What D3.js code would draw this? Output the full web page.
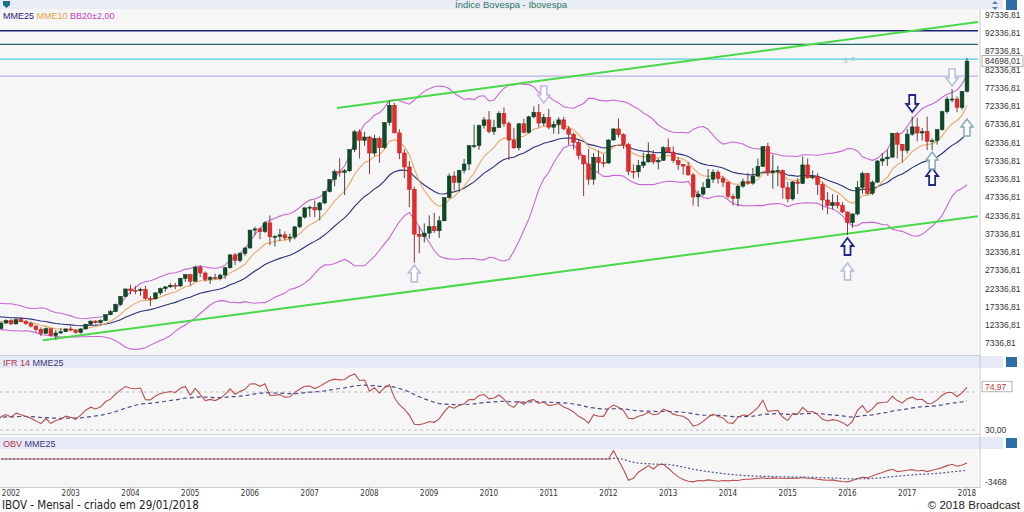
<!DOCTYPE html>
<html><head><meta charset="utf-8">
<script src="https://cdn.jsdelivr.net/npm/d3@7"></script>
<style>body{margin:0;background:#fff;} svg{display:block;font-family:"Liberation Sans",Arial,sans-serif;}</style>
</head><body><svg id="c" width="1024" height="512"></svg>
<script>
// ---- DATA (monthly, Ibovespa) ----
// closes before the first drawn candle (Jan 2000 - Oct 2001), used only to warm up indicators
const warmupCloses = [16388,17660,17820,15538,14957,16727,16348,17349,15902,14734,13290,15259,
  17672,15891,14438,14828,14649,14970,13500,12841,10633,11371];
const firstMonth = -2; // first drawn candle: Nov 2001 (month 0 = Jan 2002)
const opens = [11371,12890,
 13577,12660,13828,13268,12736,12050,11139,10079,11330,9471,10167,10507,
 11268,10941,10280,11273,12556,13421,12973,13575,15175,16010,17982,20183,
 22236,21851,21755,22142,19607,19545,21149,22337,22803,23245,23052,25128,
 26196,24351,28139,26610,24843,25387,25051,26042,28043,31583,30038,31916,
 33455,38382,38697,37951,40365,36530,36631,37077,36232,36449,39262,41931,
 44473,44641,43892,45804,48956,52268,54392,54182,54637,60465,65317,63006,
 63886,59490,63489,60968,67868,72593,65017,59505,55680,49541,37256,36596,
 37550,39301,38183,40926,47289,53198,51465,54766,56489,61518,61546,67044,
 68588,65402,66503,70372,67530,63046,60936,67515,65145,69430,70673,67705,
 69305,66575,67383,68587,66133,64620,62404,58823,56495,52324,58338,56875,
 56754,63072,66098,64511,61820,54490,54355,56097,57061,59176,57068,57475,
 60952,59761,57424,56352,55910,53506,47457,48234,50008,52338,54256,52482,
 51507,47638,47094,50415,51626,51239,53168,55829,61288,54116,54629,54724,
 50007,46908,51583,51150,56229,52760,53081,50865,46626,45059,45868,45120,
 43350,40406,42793,50055,53910,48471,51527,57308,57901,58367,64924,61906,
 60227,64670,66662,64984,65403,62711,62899,65920,70835,74294,74308,71971,
 76402];
const highs = [13120,13900,
 13950,13900,14500,13700,13300,12300,11700,11700,11400,10950,11500,11500,
 12000,11200,11500,12700,13600,13700,13900,15300,16500,18200,20300,22300,
 23400,23000,22600,23100,20300,21400,22600,23000,23800,23900,25300,26300,
 26400,28600,28800,27000,25800,26400,26400,28300,31700,32100,32300,33800,
 38400,39300,39100,40800,42400,37000,38700,38000,37400,39500,42200,44500,
 45100,46500,46100,49100,52300,55000,58100,55100,60500,65800,66000,65300,
 64200,64500,64000,68000,73920,73200,66000,60500,57300,50300,39500,40200,
 42400,43100,42200,47300,53900,54500,54800,57900,61700,67300,67300,69400,
 71000,68600,71000,72000,68100,66400,67700,68900,69700,72300,72900,70200,
 71600,68300,69300,69400,66900,65100,63400,58900,60600,59500,60200,59300,
 63200,66300,68970,64900,62300,56400,57600,59600,62400,60300,58000,61400,
 63500,61300,58400,56500,57000,54000,49200,51500,55100,55000,54800,53300,
 51700,48300,50700,52500,54100,55400,58000,61300,62300,59000,56000,55000,
 51600,51800,52600,58600,58000,54700,54000,51600,48800,48200,48000,46000,
 43400,42900,51800,54400,54100,52000,57600,59500,60300,64900,65300,62000,
 66100,69500,69100,66300,69500,63500,66000,71100,75000,77000,75000,76500,
 85500];
const lows = [11250,12600,
 12300,12450,13100,12400,11700,10500,9300,9800,9100,8371,9900,10400,
 10600,9950,9995,11100,12400,12700,12700,13400,15000,15900,17600,20000,
 20800,20800,20400,19300,17600,19300,20600,21500,22500,22200,22800,24200,
 23100,24300,25500,24300,23600,24800,24600,25000,27800,28800,29500,31300,
 33300,37000,35900,37600,34200,33900,35400,35600,35100,35800,38800,41500,
 42000,41900,41000,45500,48700,50400,53000,48000,54300,59800,58000,61500,
 53700,58600,56800,60600,67000,64900,57800,52600,44700,29435,32000,35000,
 36000,37600,36200,40800,47000,49200,48900,53900,54800,60800,60400,66200,
 64900,64400,66300,66700,57600,60600,60200,64900,64800,69000,66500,66900,
 66000,64800,64700,65700,61700,60400,57700,47700,50800,50800,54100,55600,
 56600,62900,63800,60700,53400,52500,52800,55400,56900,56400,55000,57300,
 59700,56800,54900,53600,53300,45100,44800,47800,49900,51300,51100,50200,
 47000,45100,44900,50000,50800,50800,53000,55700,53200,49700,50400,47000,
 46000,46500,48300,51000,52500,52300,48000,43800,42700,44000,44300,43000,
 37046,39000,42400,48300,48100,48000,51300,56000,56000,58300,58000,56900,
 59400,64200,62700,62900,60300,60300,61800,65600,70300,73400,70700,71400,
 76100];
const closes = [12890,13577,
 12660,13828,13268,12736,12050,11139,10079,11330,9471,10167,10507,11268,
 10941,10280,11273,12556,13421,12973,13575,15175,16010,17982,20183,22236,
 21851,21755,22142,19607,19545,21149,22337,22803,23245,23052,25128,26196,
 24351,28139,26610,24843,25387,25051,26042,28043,31583,30038,31916,33455,
 38382,38697,37951,40365,36530,36631,37077,36232,36449,39262,41931,44473,
 44641,43892,45804,48956,52268,54392,54182,54637,60465,65317,63006,63886,
 59490,63489,60968,67868,72593,65017,59505,55680,49541,37256,36596,37550,
 39301,38183,40926,47289,53198,51465,54766,56489,61518,61546,67044,68588,
 65402,66503,70372,67530,63046,60936,67515,65145,69430,70673,67705,69305,
 66575,67383,68587,66133,64620,62404,58823,56495,52324,58338,56875,56754,
 63072,66098,64511,61820,54490,54355,56097,57061,59176,57068,57475,60952,
 59761,57424,56352,55910,53506,47457,48234,50008,52338,54256,52482,51507,
 47638,47094,50415,51626,51239,53168,55829,61288,54116,54629,54724,50007,
 46908,51583,51150,56229,52760,53081,50865,46626,45059,45868,45120,43350,
 40406,42793,50055,53910,48471,51527,57308,57901,58367,64924,61906,60227,
 64670,66662,64984,65403,62711,62899,65920,70835,74294,74308,71971,76402,
 84698.01];
// OBV readings from Jan 2012 on (flat at 0 before: no volume history)
const obvStartMonth = 120;
const obvValues = [0,1250,-200,-1600,-3200,-2900,-2000,-1500,-1000,-1500,-900,-800,
 -1400,-2100,-2700,-3100,-3350,-3450,-3250,-3300,-3150,-3250,-3350,-3250,
 -3300,-3200,-3250,-3100,-3050,-3000,-2900,-2850,-2950,-2850,-2900,-2900,
 -2950,-2850,-2950,-2800,-2900,-2950,-3050,-3150,-3200,-3150,-3300,-3400,
 -3450,-3250,-2950,-2750,-2850,-2550,-2250,-2050,-1750,-1550,-1900,-1800,
 -1700,-1600,-1800,-1700,-1900,-1700,-1500,-1300,-1000,-800,-1100,-900,
 -600];
const yearLabels = ["2002","2003","2004","2005","2006","2007","2008","2009","2010","2011","2012","2013","2014","2015","2016","2017","2018"];
const priceTicks = [97336.81,92336.81,87336.81,82336.81,77336.81,72336.81,67336.81,62336.81,57336.81,52336.81,47336.81,42336.81,37336.81,32336.81,27336.81,22336.81,17336.81,12336.81,7336.81];
const levelPrices = [93029, 89297, 85262, 80600];
const trendUpper = [[65.5, 71842],[194.2, 95418]];
const trendLower = [[6.4, 8150],[194.2, 42150]];
const arrowMonths = [81, 107, 181, 189, 168, 168, 185, 185, 192];
const arrowTips  = [28800, 73200, 70750, 77870, 36200, 29350, 55400, 59780, 68830];
const arrowDirs  = ["up","down","down","down","up","up","up","up","up"];
const arrowKinds = ["light","lav","navy","light","navy","light","navy","teal","teal"];
const lastClose = 84698.01, lastRsi = 74.97, rsiTicks = [70,30], obvTick = -3468;
const title = "Índice Bovespa - Ibovespa";
const footerLeft = "IBOV - Mensal - criado em 29/01/2018", footerRight = "© 2018 Broadcast";

// ---- INDICATORS ----
const allCloses = warmupCloses.concat(closes);
const mOf = j => j - warmupCloses.length + firstMonth;
function ema(arr, n){ const a=2/(n+1); let p=null; return arr.map(v=>{ if(v==null) return null; p = p==null? v : a*v+(1-a)*p; return p; }); }
function bands(arr,n,k){ return arr.map((v,i)=>{ if(i<n-1) return null; const s=arr.slice(i-n+1,i+1); const m=d3.mean(s); const sd=Math.sqrt(d3.mean(s,q=>(q-m)*(q-m))); return [m+k*sd,m-k*sd]; }); }
function rsi(arr,n){ const out=arr.map(()=>null); let ag=0, al=0;
  for(let i=1;i<arr.length;i++){ const d=arr[i]-arr[i-1], g=Math.max(d,0), l=Math.max(-d,0);
    if(i<=n){ ag+=g/n; al+=l/n; if(i===n) out[i]=100-100/(1+ag/al); }
    else { ag=(ag*(n-1)+g)/n; al=(al*(n-1)+l)/n; out[i]=100-100/(1+ag/al); } }
  return out; }
const e25 = ema(allCloses,25), e10 = ema(allCloses,10), bb = bands(allCloses,20,2);
const r = rsi(allCloses,14), r25 = ema(r,25);
const obvAll = closes.map((c,i)=>{ const m=i+firstMonth; return m<obvStartMonth?0:obvValues[m-obvStartMonth]; });
const obv25 = ema(obvAll,25);

// ---- SCALES ----
const svg = d3.select("#c");
const R = 978;
const x = d3.scaleLinear().domain([0,192]).range([11,967]);
const y = d3.scaleLinear().domain([7336.81,97336.81]).range([343.3,15]);
const yR = d3.scaleLinear().domain([30,70]).range([430,392]);
const yO = d3.scaleLinear().domain([obvTick,0]).range([482,459]);
const fmt = v => d3.format(".2f")(v).replace(".",",");

// backgrounds
svg.append("rect").attr("width",1024).attr("height",512).attr("fill","#fff");
svg.append("rect").attr("x",0).attr("y",0).attr("width",1003).attr("height",9).attr("fill","#e9ebf6");
svg.append("rect").attr("x",0).attr("y",9).attr("width",R).attr("height",346).attr("fill","#f6f6f7");
svg.append("rect").attr("x",0).attr("y",356).attr("width",1003).attr("height",12).attr("fill","#e6e9f7");
svg.append("rect").attr("x",0).attr("y",368).attr("width",R).attr("height",66).attr("fill","#f6f6f7");
svg.append("rect").attr("x",0).attr("y",437).attr("width",1003).attr("height",12).attr("fill","#e6e9f7");
svg.append("rect").attr("x",0).attr("y",449).attr("width",R).attr("height",38).attr("fill","#f6f6f7");
svg.append("line").attr("x1",980).attr("x2",980).attr("y1",9).attr("y2",488).attr("stroke","#c8c8c8");
[355,434,487].forEach(v=>svg.append("line").attr("x1",0).attr("x2",980).attr("y1",v+0.5).attr("y2",v+0.5).attr("stroke","#d0d0d0"));

const defs = svg.append("defs");
[["cm",0,9,R,346],["cr",0,368,R,66],["co",0,449,R,38],["cl",980,386,44,5]].forEach(c=>defs.append("clipPath").attr("id",c[0]).append("rect").attr("x",c[1]).attr("y",c[2]).attr("width",c[3]).attr("height",c[4]));
const gM = svg.append("g").attr("clip-path","url(#cm)");
const gR = svg.append("g").attr("clip-path","url(#cr)");
const gO = svg.append("g").attr("clip-path","url(#co)");

// level lines
const levelColors = ["#1b1f78","#1f6b66","#4fd0dc","#b9b1e6"];
levelPrices.forEach((p,i)=>gM.append("line").attr("x1",0).attr("x2",R).attr("y1",y(p)).attr("y2",y(p)).attr("stroke",levelColors[i]).attr("stroke-width",i<2?1.4:1.2));
gM.append("text").attr("x",843).attr("y",63).attr("font-size",8).attr("fill","#9bb8c8").text("3");
gM.append("circle").attr("cx",853).attr("cy",y(levelPrices[2])).attr("r",2).attr("fill","#a8d0dc");

// lines helper
const firstJ = warmupCloses.length;
function series(arr, f){ const pts=[]; for(let j=firstJ-1;j<arr.length;j++){ const v=f?f(arr[j]):arr[j]; if(v!=null) pts.push([mOf(j),v]); } return pts; }
const line = (ys) => d3.line().x(d=>x(d[0])).y(d=>ys(d[1]));
gM.append("path").attr("d",line(y)(series(bb,d=>d&&d[0]))).attr("fill","none").attr("stroke","#c867d3").attr("stroke-width",1.1);
gM.append("path").attr("d",line(y)(series(bb,d=>d&&d[1]))).attr("fill","none").attr("stroke","#c867d3").attr("stroke-width",1.1);
gM.append("path").attr("d",line(y)(series(e25))).attr("fill","none").attr("stroke","#2c3079").attr("stroke-width",1.1);
gM.append("path").attr("d",line(y)(series(e10))).attr("fill","none").attr("stroke","#e9a868").attr("stroke-width",1.1);

// trend lines
[trendUpper,trendLower].forEach(t=>gM.append("line").attr("x1",x(t[0][0])).attr("y1",y(t[0][1])).attr("x2",x(t[1][0])).attr("y2",y(t[1][1])).attr("stroke","#4ad94a").attr("stroke-width",2));

// candles
const cg = gM.selectAll("g.c").data(closes.map((c,i)=>({m:i+firstMonth,o:opens[i],h:highs[i],l:lows[i],c}))).join("g");
cg.append("line").attr("x1",d=>x(d.m)).attr("x2",d=>x(d.m)).attr("y1",d=>y(d.h)).attr("y2",d=>y(d.l))
  .attr("stroke",d=>d.c>=d.o?"#3b4a40":"#8a3a3a").attr("stroke-width",1);
cg.append("rect").attr("x",d=>x(d.m)-1.9).attr("width",3.8)
  .attr("y",d=>y(Math.max(d.o,d.c))).attr("height",d=>Math.max(1,Math.abs(y(d.o)-y(d.c))))
  .attr("fill",d=>d.c>=d.o?"#0e4a27":"#e62a2a").attr("stroke",d=>d.c>=d.o?"#0a3a1e":"#c41e1e").attr("stroke-width",0.5);

// arrows
const arrowStyle = {navy:["#20268a",1.8],light:["#b3bdd6",1.5],lav:["#c4b4e4",1.5],teal:["#86aab6",1.5]};
arrowMonths.forEach((m,i)=>{
  const cx=x(m), ty=y(arrowTips[i]), s=arrowDirs[i]==="up"?1:-1, st=arrowStyle[arrowKinds[i]];
  const pts=[[0,0],[6,8],[3,8],[3,17],[-3,17],[-3,8],[-6,8]].map(p=>[cx+p[0],ty+s*p[1]]);
  gM.append("path").attr("d","M"+pts.join("L")+"Z").attr("fill","#fff").attr("stroke",st[0]).attr("stroke-width",st[1]).attr("stroke-linejoin","miter");
});

// RSI panel
[70,30].forEach(v=>gR.append("line").attr("x1",0).attr("x2",R).attr("y1",yR(v)).attr("y2",yR(v)).attr("stroke","#bdbdbd").attr("stroke-dasharray","3,3"));
gR.append("path").attr("d",line(yR)(series(r25))).attr("fill","none").attr("stroke","#4b4b86").attr("stroke-width",1.2).attr("stroke-dasharray","4,3");
gR.append("path").attr("d",line(yR)(series(r))).attr("fill","none").attr("stroke","#b8504f").attr("stroke-width",1.1);

// OBV panel
const obvPts = obvAll.map((v,i)=>[i+firstMonth,v]), obvEPts = obv25.map((v,i)=>[i+firstMonth,v]);
gO.append("path").attr("d",line(yO)(obvPts)).attr("fill","none").attr("stroke","#b8504f").attr("stroke-width",1.1);
gO.append("path").attr("d",line(yO)(obvEPts)).attr("fill","none").attr("stroke","#55598c").attr("stroke-width",1.2).attr("stroke-dasharray","2,2");

// right axis labels
const ax = svg.append("g").attr("font-size",8.5).attr("fill","#333");
priceTicks.forEach(v=>ax.append("text").attr("x",985).attr("y",y(v)+3).text(fmt(v)));
ax.append("rect").attr("x",982).attr("y",y(lastClose)-5.5).attr("width",41).attr("height",11).attr("fill","#fff").attr("stroke","#a0a0a0").attr("stroke-width",0.8);
ax.append("text").attr("x",985).attr("y",y(lastClose)+3).text(fmt(lastClose));
// 70,00 label sits partly under the 74,97 marker: only its lower strip shows
ax.append("text").attr("x",985).attr("y",yR(rsiTicks[0])+3).attr("clip-path","url(#cl)").text(fmt(rsiTicks[0]));
ax.append("text").attr("x",985).attr("y",yR(rsiTicks[1])+3).text(fmt(rsiTicks[1]));
ax.append("rect").attr("x",982).attr("y",yR(lastRsi)-6).attr("width",30).attr("height",10.5).attr("fill","#fff").attr("stroke","#a0a0a0").attr("stroke-width",0.8);
ax.append("text").attr("x",985).attr("y",yR(lastRsi)+2.5).attr("fill","#c03434").text(fmt(lastRsi));
ax.append("text").attr("x",985).attr("y",yO(obvTick)+3).text(String(obvTick));

// x axis
const xa = svg.append("g").attr("font-size",8).attr("fill","#333").attr("font-family","'Liberation Sans Narrow','DejaVu Sans Condensed',sans-serif");
yearLabels.forEach((t,i)=>{ xa.append("line").attr("x1",x(i*12)).attr("x2",x(i*12)).attr("y1",487).attr("y2",490).attr("stroke","#aaa");
  xa.append("text").attr("x",x(i*12)).attr("y",496).attr("text-anchor","middle").text(t); });

// headers
svg.append("text").attr("x",511).attr("y",8).attr("text-anchor","middle").attr("font-size",9.5).attr("fill","#2f7a5c").text(title);
const lg = svg.append("text").attr("x",3).attr("y",19).attr("font-size",9);
lg.append("tspan").attr("fill","#1f2377").text("MME25 ");
lg.append("tspan").attr("fill","#eda048").text("MME10 ");
lg.append("tspan").attr("fill","#c33ec3").text("BB20±2,00");
const h1 = svg.append("text").attr("x",3).attr("y",366).attr("font-size",9);
h1.append("tspan").attr("fill","#b13a3a").text("IFR 14  ");
h1.append("tspan").attr("fill","#3b3b7a").text("MME25");
const h2 = svg.append("text").attr("x",3).attr("y",447).attr("font-size",9);
h2.append("tspan").attr("fill","#b13a3a").text("OBV  ");
h2.append("tspan").attr("fill","#3b3b7a").text("MME25");

// icons
svg.append("path").attr("d","M3,1 h7 v4 l-3.5,3 l-3.5,-3 Z").attr("fill","#1f6f86");
[[1006,0],[1006,357],[1006,438]].forEach(p=>svg.append("rect").attr("x",p[0]).attr("y",p[1]).attr("width",11).attr("height",10).attr("fill","#2c6fa8"));
svg.append("path").attr("d","M995,1 l3,3 h-6 Z M995,10 l3,-3 h-6 Z").attr("fill","#5a82b0");

// footer
svg.append("text").attr("x",2).attr("y",509).attr("font-size",11.5).attr("fill","#222").attr("font-family","'Liberation Sans Narrow','DejaVu Sans Condensed',sans-serif").text(footerLeft);
svg.append("text").attr("x",1020).attr("y",509).attr("text-anchor","end").attr("font-size",11.5).attr("fill","#222").text(footerRight);
</script></body></html>
